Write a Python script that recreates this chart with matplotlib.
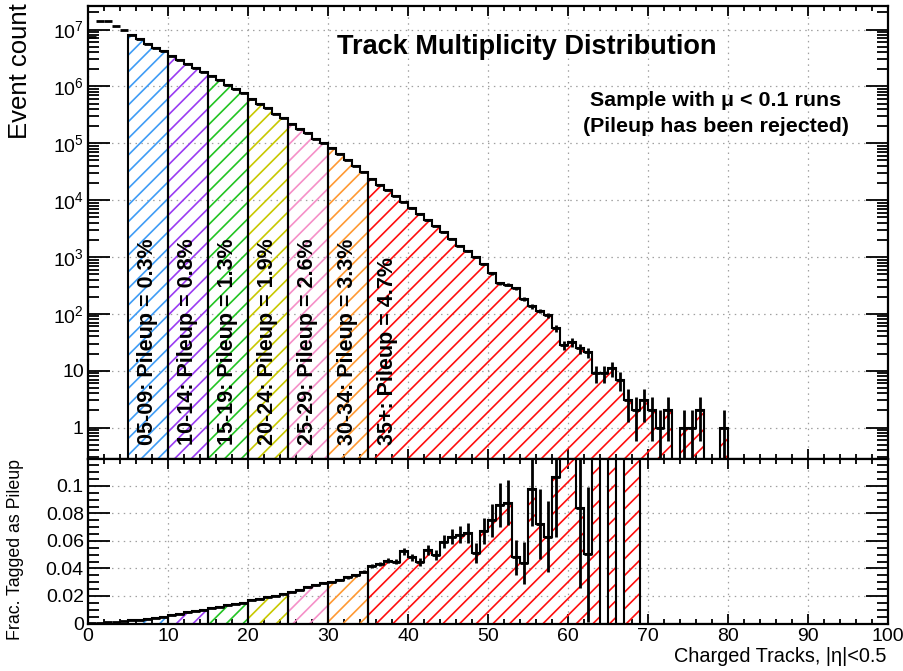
import numpy as np
import matplotlib
matplotlib.use("Agg")
import matplotlib.pyplot as plt
from matplotlib.ticker import MultipleLocator, FixedLocator, FuncFormatter, LogLocator, NullFormatter

plt.rcParams['font.family'] = ['Liberation Sans', 'DejaVu Sans']
plt.rcParams['mathtext.fontset'] = 'custom'
plt.rcParams['mathtext.rm'] = 'Liberation Sans'
plt.rcParams['mathtext.it'] = 'Liberation Sans:italic'
plt.rcParams['mathtext.bf'] = 'Liberation Sans:bold'
plt.rcParams['hatch.linewidth'] = 1.2

# ---- data: one bin per charged-track count, 0..79 ----
bin_edges = np.arange(0, 81)

event_counts = np.array([
    7.4e6, 1.4e7, 1.4e7, 1.16e7, 9.7e6,          # 0-4
    7.9e6, 6.7e6, 5.6e6, 4.8e6, 4.2e6,           # 5-9
    3.5e6, 2.97e6, 2.5e6, 2.14e6, 1.8e6,         # 10-14
    1.5e6, 1.28e6, 1.07e6, 8.9e5, 7.6e5,         # 15-19
    5.9e5, 5.0e5, 4.1e5, 3.33e5, 2.82e5,         # 20-24
    2.22e5, 1.82e5, 1.49e5, 1.21e5, 1.02e5,      # 25-29
    8.3e4, 6.5e4, 5.1e4, 4.0e4, 3.1e4,           # 30-34
    2.35e4, 1.87e4, 1.5e4, 1.2e4, 9.3e3,         # 35-39
    7.2e3, 5.6e3, 4.4e3, 3.5e3, 2.7e3,           # 40-44
    2.1e3, 1.58e3, 1.28e3, 990, 740,             # 45-49
    515, 345, 325, 285, 183,                     # 50-54
    135, 113, 95, 56, 28,                        # 55-59
    32, 25, 21, 9, 9,                            # 60-64
    11, 7, 3, 2, 3,                              # 65-69
    2, 1, 2, 0, 1,                               # 70-74
    1, 2, 0, 0, 1,                               # 75-79
])

pileup_fraction = np.array([
    0.0002, 0.0004, 0.0008, 0.0012, 0.0017,      # 0-4
    0.0022, 0.0027, 0.0033, 0.0040, 0.0048,      # 5-9
    0.0062, 0.0071, 0.0080, 0.0089, 0.0098,      # 10-14
    0.0112, 0.0122, 0.0132, 0.0142, 0.0152,      # 15-19
    0.0170, 0.0181, 0.0192, 0.0203, 0.0215,      # 20-24
    0.0230, 0.0246, 0.0262, 0.0278, 0.0292,      # 25-29
    0.0305, 0.0318, 0.0335, 0.0350, 0.0375,      # 30-34
    0.0418, 0.0434, 0.0456, 0.0450, 0.0525,      # 35-39
    0.0480, 0.0450, 0.0533, 0.0500, 0.0594,      # 40-44
    0.0630, 0.0647, 0.0660, 0.0514, 0.0674,      # 45-49
    0.0751, 0.0860, 0.0878, 0.0480, 0.0440,      # 50-54
    0.0980, 0.0722, 0.0630, 0.1067, 0.2500,      # 55-59
    0.2500, 0.0837, 0.0502, 0.3330, 0.0,         # 60-64
    0.3640, 0.0, 0.6670, 1.0, 0.0,               # 65-69
    0.0, 0.0, 0.0, 0.0, 0.0,                     # 70-74
    0.0, 0.0, 0.0, 0.0, 0.0,                     # 75-79
])

region_starts = [5, 10, 15, 20, 25, 30, 35]
region_ends = [10, 15, 20, 25, 30, 35, 80]
region_names = ['05-09', '10-14', '15-19', '20-24', '25-29', '30-34', '35+']
region_pileup = ['0.3%', '0.8%', '1.3%', '1.9%', '2.6%', '3.3%', '4.7%']
region_colors = ['#3f9cf5', '#9a3cf2', '#22c422', '#c8c800', '#f590c8', '#ff9933', '#ff0d0d']

# ---- figure layout: main pad on top, ratio pad below ----
fig = plt.figure(figsize=(9.04, 6.71), dpi=100)
L, W = 88 / 904, 800 / 904
ax_top = fig.add_axes([L, 1 - 459 / 671, W, (459 - 6) / 671])
ax_bot = fig.add_axes([L, 1 - 623.5 / 671, W, (623.5 - 459) / 671])

floor = 1e-3
centers = bin_edges[:-1] + 0.5
grid_kw = dict(linestyle=(0, (1.2, 3.5)), color='#a0a0a0', linewidth=0.9)

# ---- top: event counts ----
cnt_draw = np.where(event_counts > 0, event_counts, floor)
for s, e, col in zip(region_starts, region_ends, region_colors):
    ax_top.stairs(cnt_draw[s:e], bin_edges[s:e + 1], baseline=floor, fill=True,
                  facecolor='none', edgecolor=col, hatch='//', linewidth=0, zorder=2)
    ax_top.stairs(cnt_draw[s:e], bin_edges[s:e + 1], baseline=floor, fill=False,
                  color='black', linewidth=1.5, zorder=3)

has = event_counts > 0
cerr = np.sqrt(event_counts)
clo = np.minimum(cerr, event_counts - floor * 0.5)
ax_top.errorbar(centers[has], event_counts[has], xerr=0.5,
                yerr=[clo[has], cerr[has]], fmt='none', ecolor='black',
                elinewidth=2.0, capsize=0, zorder=4)

ax_top.set_yscale('log')
ax_top.set_xlim(0, 100)
ax_top.set_ylim(0.28, 2.6e7)
ax_top.yaxis.set_major_locator(FixedLocator(10.0 ** np.arange(0, 8)))
ax_top.yaxis.set_minor_locator(LogLocator(base=10, subs=np.arange(2, 10)))
ax_top.yaxis.set_minor_formatter(NullFormatter())


def log_label(v, pos):
    e = int(round(np.log10(v)))
    if e == 0:
        return '1'
    if e == 1:
        return '10'
    return r'$\mathregular{10^{%d}}$' % e


ax_top.yaxis.set_major_formatter(FuncFormatter(log_label))
ax_top.xaxis.set_major_locator(MultipleLocator(10))
ax_top.xaxis.set_minor_locator(MultipleLocator(2))
ax_top.tick_params(labelbottom=False)
ax_top.grid(True, which='major', **grid_kw)

# pileup-class labels
for s, e, name, pu in zip(region_starts, region_ends, region_names, region_pileup):
    xc = s + 2.5
    ax_top.text(xc, 0.49, f'{name}: Pileup = {pu}', rotation=90, ha='center',
                va='bottom', fontsize=15.5, fontweight='bold', zorder=5)

# ---- bottom: fraction tagged as pileup ----
for s, e, col in zip(region_starts, region_ends, region_colors):
    ax_bot.stairs(pileup_fraction[s:e], bin_edges[s:e + 1], baseline=0, fill=True,
                  facecolor='none', edgecolor=col, hatch='//', linewidth=0, zorder=2)
    ax_bot.stairs(pileup_fraction[s:e], bin_edges[s:e + 1], baseline=0, fill=False,
                  color='black', linewidth=1.5, zorder=3)

ferr = np.where(has, np.sqrt(pileup_fraction / np.where(has, event_counts, 1)), 0)
ax_bot.errorbar(centers[has], pileup_fraction[has], xerr=0.5, yerr=ferr[has],
                fmt='none', ecolor='black', elinewidth=2.0, capsize=0, zorder=4)

ax_bot.set_xlim(0, 100)
ax_bot.set_ylim(0, 0.1196)
ax_bot.yaxis.set_major_locator(MultipleLocator(0.02))
ax_bot.yaxis.set_minor_locator(MultipleLocator(0.005))
ax_bot.yaxis.set_major_formatter(FuncFormatter(lambda v, p: '0' if abs(v) < 1e-9 else '%g' % round(v, 3)))
ax_bot.xaxis.set_major_locator(MultipleLocator(10))
ax_bot.xaxis.set_minor_locator(MultipleLocator(2))
ax_bot.grid(True, which='major', **grid_kw)

for ax in (ax_top, ax_bot):
    ax.set_axisbelow(True)
    for sp in ax.spines.values():
        sp.set_linewidth(1.6)
    ax.tick_params(which='both', direction='in', top=True, right=True,
                   labelsize=14, pad=3, width=1.3)
    ax.tick_params(axis='y', which='major', length=15.8)
    ax.tick_params(axis='y', which='minor', length=8)
    ax.tick_params(axis='x', which='major', length=7.2)
    ax.tick_params(axis='x', which='minor', length=3.6)

# ---- titles and axis labels ----
fig.text(527 / 904, 1 - 47 / 671, 'Track Multiplicity Distribution', ha='center',
         va='center', fontsize=19.5, fontweight='bold')
fig.text(716 / 904, 1 - 100 / 671, 'Sample with μ < 0.1 runs', ha='center',
         va='center', fontsize=15.4, fontweight='bold')
fig.text(716 / 904, 1 - 127 / 671, '(Pileup has been rejected)', ha='center',
         va='center', fontsize=15.4, fontweight='bold')
fig.text(20 / 904, 1 - 3 / 671, 'Event count', rotation=90, ha='center',
         va='top', fontsize=18.5)
fig.text(16 / 904, 1 - 459 / 671, 'Frac. Tagged as Pileup', rotation=90,
         ha='center', va='top', fontsize=12.8)
fig.text(886 / 904, 1 - 657 / 671, 'Charged Tracks, |η|<0.5', ha='right',
         va='center', fontsize=14.3)

fig.savefig('out.png', dpi=100)
